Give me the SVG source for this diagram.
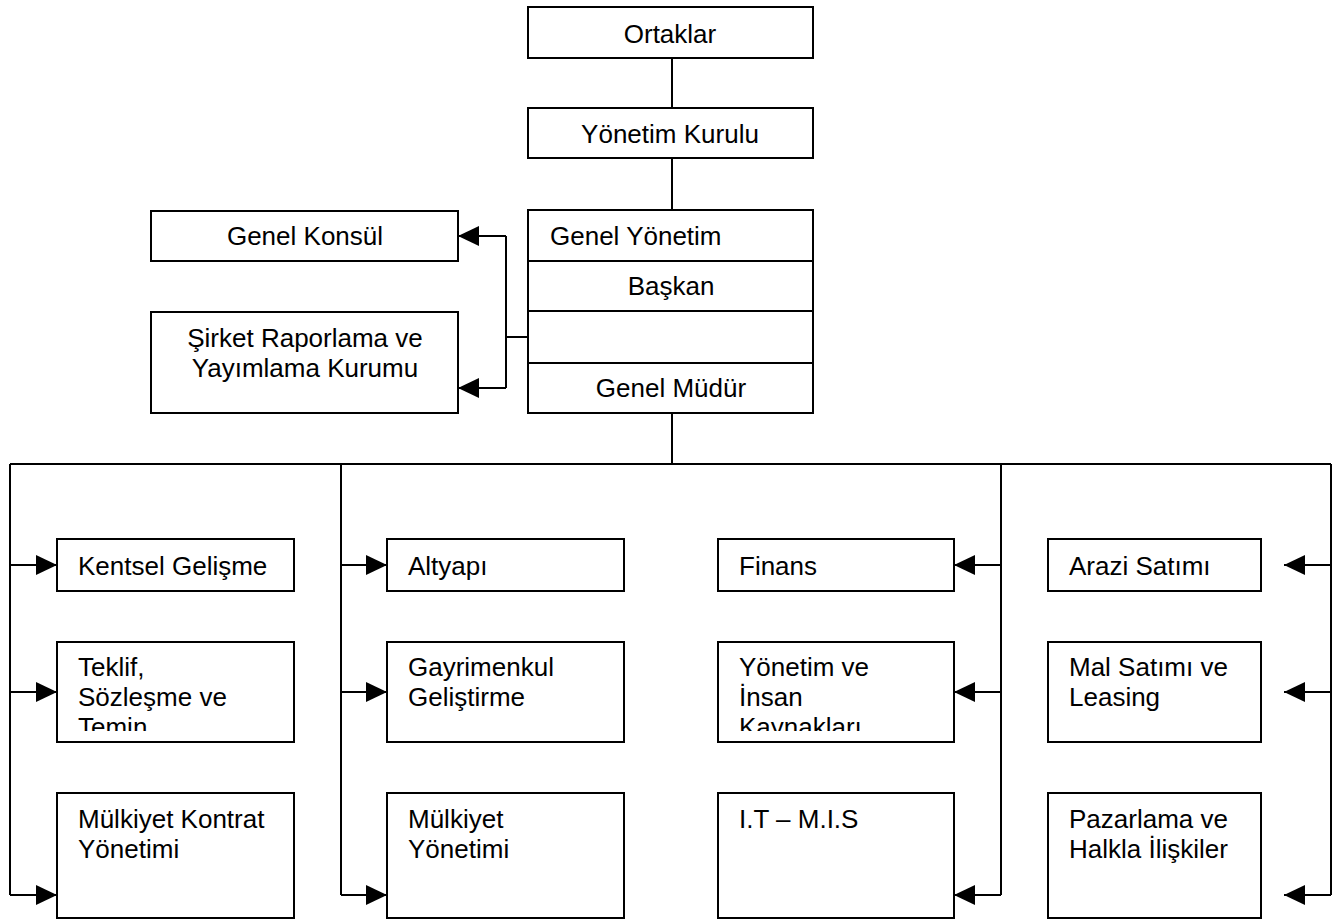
<svg xmlns="http://www.w3.org/2000/svg" width="1343" height="920" viewBox="0 0 1343 920">
<style>
.box{fill:#fff;stroke:#000;stroke-width:2}
.ln{fill:none;stroke:#000;stroke-width:2}
text{font-family:"Liberation Sans",Arial,sans-serif;font-size:26px;fill:#000}
.c{text-anchor:middle}
</style>
<defs>
<marker id="ah" markerUnits="userSpaceOnUse" markerWidth="22" markerHeight="22" refX="21" refY="10" orient="auto">
<path d="M0,0 L21,10 L0,20 z" fill="#000"/>
</marker>
<clipPath id="clipA"><rect x="57" y="642" width="237" height="89"/></clipPath>
<clipPath id="clipB"><rect x="718" y="642" width="236" height="89"/></clipPath>
</defs>
<rect width="1343" height="920" fill="#fff"/>
<g id="connectors">
<path class="ln" d="M672,58 V108 M672,158 V210 M672,413 V464 M10,464 H1331"/>
<path class="ln" d="M528,337 H506 M506,236 V388"/>
<path class="ln" d="M506,236 H458" marker-end="url(#ah)"/>
<path class="ln" d="M506,388 H458" marker-end="url(#ah)"/>
<path class="ln" d="M10,464 V895 M341,464 V895 M1001,464 V895 M1331,464 V895"/>
<path class="ln" d="M10,565 H57" marker-end="url(#ah)"/>
<path class="ln" d="M10,692 H57" marker-end="url(#ah)"/>
<path class="ln" d="M10,895 H57" marker-end="url(#ah)"/>
<path class="ln" d="M341,565 H387" marker-end="url(#ah)"/>
<path class="ln" d="M341,692 H387" marker-end="url(#ah)"/>
<path class="ln" d="M341,895 H387" marker-end="url(#ah)"/>
<path class="ln" d="M1001,565 H954" marker-end="url(#ah)"/>
<path class="ln" d="M1001,692 H954" marker-end="url(#ah)"/>
<path class="ln" d="M1001,895 H954" marker-end="url(#ah)"/>
<path class="ln" d="M1331,565 H1284" marker-end="url(#ah)"/>
<path class="ln" d="M1331,692 H1284" marker-end="url(#ah)"/>
<path class="ln" d="M1331,895 H1284" marker-end="url(#ah)"/>
</g>
<g id="ortaklar"><rect class="box" x="528" y="7" width="285" height="51"/><text class="c" x="670" y="43">Ortaklar</text></g>
<g id="yonetim-kurulu"><rect class="box" x="528" y="108" width="285" height="50"/><text class="c" x="670" y="143">Yönetim Kurulu</text></g>
<g id="genel-yonetim">
<rect class="box" x="528" y="210" width="285" height="203"/>
<path class="ln" d="M528,261 H813 M528,311 H813 M528,363 H813"/>
<text x="550" y="245">Genel Yönetim</text>
<text class="c" x="671" y="295">Başkan</text>
<text class="c" x="671" y="397">Genel Müdür</text>
</g>
<g id="genel-konsul"><rect class="box" x="151" y="211" width="307" height="50"/><text class="c" x="305" y="245">Genel Konsül</text></g>
<g id="sirket-raporlama"><rect class="box" x="151" y="312" width="307" height="101"/><text class="c" x="305" y="347">Şirket Raporlama ve</text><text class="c" x="305" y="377">Yayımlama Kurumu</text></g>

<g id="kentsel"><rect class="box" x="57" y="539" width="237" height="52"/><text x="78" y="575">Kentsel Gelişme</text></g>
<g id="teklif"><rect class="box" x="57" y="642" width="237" height="100"/><g clip-path="url(#clipA)"><text x="78" y="676">Teklif,</text><text x="78" y="706">Sözleşme ve</text><text x="78" y="736">Temin</text></g></g>
<g id="mulkiyet-kontrat"><rect class="box" x="57" y="793" width="237" height="125"/><text x="78" y="828">Mülkiyet Kontrat</text><text x="78" y="858">Yönetimi</text></g>

<g id="altyapi"><rect class="box" x="387" y="539" width="237" height="52"/><text x="408" y="575">Altyapı</text></g>
<g id="gayrimenkul"><rect class="box" x="387" y="642" width="237" height="100"/><text x="408" y="676">Gayrimenkul</text><text x="408" y="706">Geliştirme</text></g>
<g id="mulkiyet-yonetimi"><rect class="box" x="387" y="793" width="237" height="125"/><text x="408" y="828">Mülkiyet</text><text x="408" y="858">Yönetimi</text></g>

<g id="finans"><rect class="box" x="718" y="539" width="236" height="52"/><text x="739" y="575">Finans</text></g>
<g id="yonetim-ik"><rect class="box" x="718" y="642" width="236" height="100"/><g clip-path="url(#clipB)"><text x="739" y="676">Yönetim ve</text><text x="739" y="706">İnsan</text><text x="739" y="736">Kaynakları</text></g></g>
<g id="it-mis"><rect class="box" x="718" y="793" width="236" height="125"/><text x="739" y="828">I.T – M.I.S</text></g>

<g id="arazi"><rect class="box" x="1048" y="539" width="213" height="52"/><text x="1069" y="575">Arazi Satımı</text></g>
<g id="mal-satimi"><rect class="box" x="1048" y="642" width="213" height="100"/><text x="1069" y="676">Mal Satımı ve</text><text x="1069" y="706">Leasing</text></g>
<g id="pazarlama"><rect class="box" x="1048" y="793" width="213" height="125"/><text x="1069" y="828">Pazarlama ve</text><text x="1069" y="858">Halkla İlişkiler</text></g>
</svg>
